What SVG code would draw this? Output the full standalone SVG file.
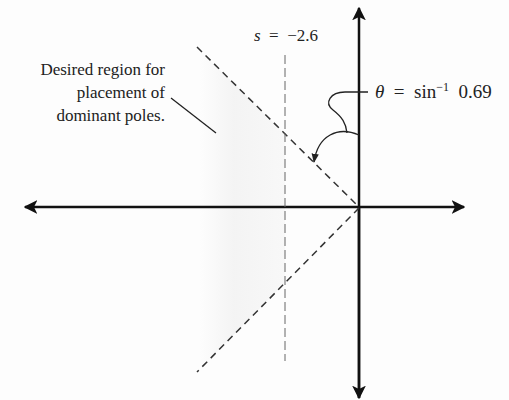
<svg xmlns="http://www.w3.org/2000/svg" width="509" height="400" viewBox="0 0 509 400">
<style>
.t{font-family:"Liberation Serif","Times New Roman",serif;font-size:17px;fill:#222}
.big{font-size:19px}
.sup{font-size:12px}
.ax{stroke:#111;stroke-width:2.5;fill:none}
.dd{stroke:#333;stroke-width:1.5;stroke-dasharray:7 5;fill:none}
.dv{stroke:#666;stroke-width:1;stroke-dasharray:9 4;fill:none}
.ln{stroke:#222;stroke-width:1.3;fill:none}
</style>
<defs>
<marker id="ah" viewBox="0 0 10 10" refX="9" refY="5" markerWidth="5.5" markerHeight="5.5" orient="auto" markerUnits="strokeWidth">
<path d="M0,0 L10,5 L0,10 L2.5,5 Z" fill="#111"/>
</marker>
<marker id="sa" viewBox="0 0 10 10" refX="9" refY="5" markerWidth="7" markerHeight="7" orient="auto" markerUnits="strokeWidth">
<path d="M0,1 L10,5 L0,9 Z" fill="#222"/>
</marker>
<linearGradient id="sh" x1="0" y1="0" x2="1" y2="0">
<stop offset="0" stop-color="#e8e8e8" stop-opacity="0"/>
<stop offset="0.4" stop-color="#e8e8e8" stop-opacity="0.45"/>
<stop offset="1" stop-color="#eeeeee" stop-opacity="0.35"/>
</linearGradient>
</defs>
<rect width="509" height="400" fill="#fdfdfd"/>
<polygon points="285,134 200,50 200,369 285,283" fill="url(#sh)"/>
<g id="connectors">
<line class="ax" x1="359" y1="398" x2="359" y2="8" marker-end="url(#ah)"/>
<line class="ax" x1="359" y1="207" x2="359" y2="398" marker-end="url(#ah)"/>
<line class="ax" x1="359" y1="207" x2="25" y2="207" marker-end="url(#ah)"/>
<line class="ax" x1="359" y1="207" x2="464" y2="207" marker-end="url(#ah)"/>
<line class="dd" x1="197" y1="47" x2="359" y2="207"/>
<line class="dd" x1="359" y1="208" x2="197" y2="372"/>
<line class="dv" x1="285" y1="55" x2="285" y2="361"/>
<line class="ln" x1="171" y1="98" x2="216" y2="133"/>
<path class="ln" d="M368,92 L345,92 C330,92 324,103 333,110 C342,117 346,123 347,133"/>
<path class="ln" d="M359,135 C338,126 318,135 314,162" marker-end="url(#sa)"/>
</g>
<g id="label-s">
<text class="t" x="286" y="41" text-anchor="middle" xml:space="preserve"><tspan font-style="italic">s</tspan>  =  −2.6</text>
</g>
<g id="label-region">
<text class="t" x="165" y="75" text-anchor="end">Desired region for</text>
<text class="t" x="165" y="98" text-anchor="end">placement of</text>
<text class="t" x="165" y="121" text-anchor="end">dominant poles.</text>
</g>
<g id="label-theta">
<text class="t big" x="375" y="98" xml:space="preserve"><tspan font-style="italic">θ</tspan>  =  sin<tspan class="sup" dy="-7">−1</tspan><tspan dy="7">  0.69</tspan></text>
</g>
</svg>
